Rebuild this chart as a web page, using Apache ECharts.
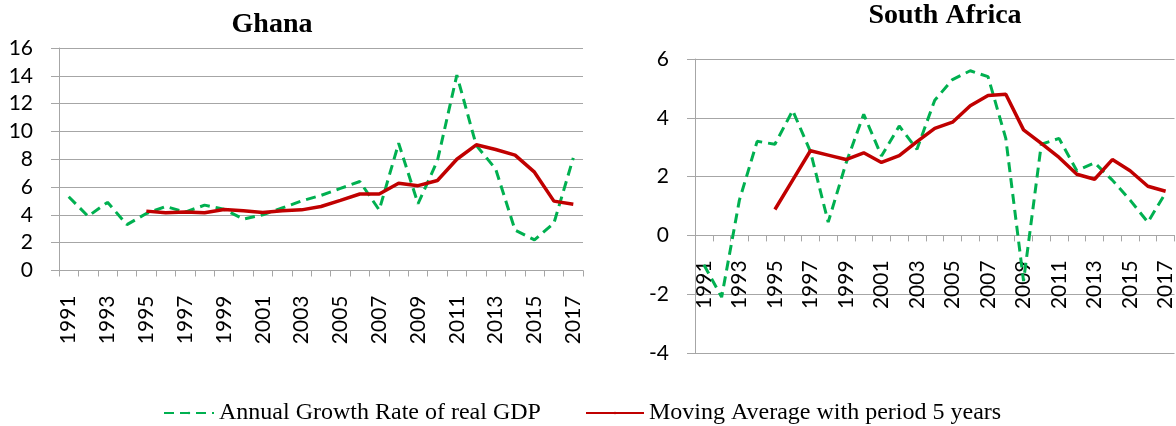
<!DOCTYPE html>
<html>
<head>
<meta charset="utf-8">
<script src="https://cdn.jsdelivr.net/npm/echarts@6/dist/echarts.min.js"></script>
<style>
html,body{margin:0;padding:0;background:#fff;}
#chart{width:1176px;height:426px;}
</style>
</head>
<body>
<div id="chart"></div>
<script>
const years = ['1991','1992','1993','1994','1995','1996','1997','1998','1999','2000','2001','2002','2003','2004','2005','2006','2007','2008','2009','2010','2011','2012','2013','2014','2015','2016','2017'];

const ghanaGrowth = [5.3, 3.9, 4.9, 3.3, 4.1, 4.6, 4.2, 4.7, 4.4, 3.7, 4.0, 4.5, 5.0, 5.4, 5.9, 6.4, 4.35, 9.15, 4.8, 7.9, 14.05, 9.0, 7.3, 2.9, 2.2, 3.4, 8.1];
const ghanaMA = [null, null, null, null, 4.27, 4.15, 4.2, 4.15, 4.39, 4.3, 4.17, 4.3, 4.36, 4.6, 5.04, 5.5, 5.5, 6.28, 6.1, 6.47, 8.0, 9.04, 8.7, 8.3, 7.07, 4.99, 4.77];

const saGrowth = [-1.0, -2.1, 1.2, 3.2, 3.1, 4.25, 2.85, 0.45, 2.45, 4.12, 2.7, 3.72, 2.93, 4.6, 5.3, 5.6, 5.4, 3.3, -1.55, 3.1, 3.3, 2.2, 2.47, 1.88, 1.2, 0.45, 1.45];
const saMA = [null, null, null, null, 0.88, 1.88, 2.88, 2.73, 2.58, 2.81, 2.48, 2.71, 3.19, 3.64, 3.85, 4.41, 4.76, 4.8, 3.59, 3.13, 2.65, 2.08, 1.91, 2.58, 2.2, 1.67, 1.5];

const titles = ['Ghana', 'South Africa'];
const seriesNames = ['Annual Growth Rate of real GDP', 'Moving Average with period 5 years'];

const GREEN = '#00B050', RED = '#C00000', GRID = '#A6A6A6';
const labelFont = 'Lato, "Open Sans", sans-serif';
const serif = '"Liberation Serif", "DejaVu Serif", serif';

// grid geometry
const G1 = { left: 59, top: 48, width: 524, height: 222.5 };
const G2 = { left: 695, top: 59, width: 486, height: 294 };
const saMin = -4, saMax = 6;
// move SA category axis up to the zero line
const saOffset = -G2.height * (0 - saMin) / (saMax - saMin);

function xAxis(gridIndex, offset) {
  return {
    type: 'category', gridIndex, data: years, boundaryGap: true,
    position: 'bottom', offset,
    axisLine: { onZero: false, lineStyle: { color: GRID, width: 1 } },
    axisTick: { show: true, length: 6, interval: 0, lineStyle: { color: GRID } },
    axisLabel: { interval: 1, rotate: 90, margin: 25, color: '#000', fontSize: 21, fontFamily: labelFont }
  };
}
function yAxis(gridIndex, min, max) {
  return {
    type: 'value', gridIndex, min, max, interval: 2,
    axisLine: { show: true, onZero: false, lineStyle: { color: GRID, width: 1 } },
    axisTick: { show: true, length: 8, lineStyle: { color: GRID } },
    splitLine: { show: true, lineStyle: { color: GRID, width: 1 } },
    axisLabel: { margin: 26, color: '#000', fontSize: 21, fontFamily: labelFont }
  };
}
function growthSeries(idx, data) {
  return { name: seriesNames[0], type: 'line', xAxisIndex: idx, yAxisIndex: idx, data,
    symbol: 'none', connectNulls: false, animation: false,
    lineStyle: { color: GREEN, width: 3, type: [10, 6] }, itemStyle: { color: GREEN } };
}
function maSeries(idx, data) {
  return { name: seriesNames[1], type: 'line', xAxisIndex: idx, yAxisIndex: idx, data,
    symbol: 'none', connectNulls: false, animation: false, z: 3,
    lineStyle: { color: RED, width: 3.5 }, itemStyle: { color: RED } };
}

const chart = echarts.init(document.getElementById('chart'), null, { renderer: 'canvas' });
chart.setOption({
  backgroundColor: '#fff',
  animation: false,
  title: [
    { text: titles[0], left: 267, top: 6, textAlign: 'center',
      textStyle: { fontFamily: serif, fontWeight: 'bold', fontSize: 28, color: '#000' } },
    { text: titles[1], left: 940, top: -3, textAlign: 'center',
      textStyle: { fontFamily: serif, fontWeight: 'bold', fontSize: 28, color: '#000' } }
  ],
  legend: [
    { data: [seriesNames[0]], left: 158, top: 396, itemWidth: 50, itemHeight: 3, itemGap: 5,
      textStyle: { fontFamily: serif, fontSize: 24, color: '#000' } },
    { data: [seriesNames[1]], left: 580, top: 396, itemWidth: 58, itemHeight: 3, itemGap: 5,
      textStyle: { fontFamily: serif, fontSize: 24, color: '#000' } }
  ],
  grid: [G1, G2],
  xAxis: [xAxis(0, 0), xAxis(1, saOffset)],
  yAxis: [yAxis(0, 0, 16), yAxis(1, saMin, saMax)],
  series: [
    growthSeries(0, ghanaGrowth), maSeries(0, ghanaMA),
    growthSeries(1, saGrowth), maSeries(1, saMA)
  ]
});
</script>
</body>
</html>
